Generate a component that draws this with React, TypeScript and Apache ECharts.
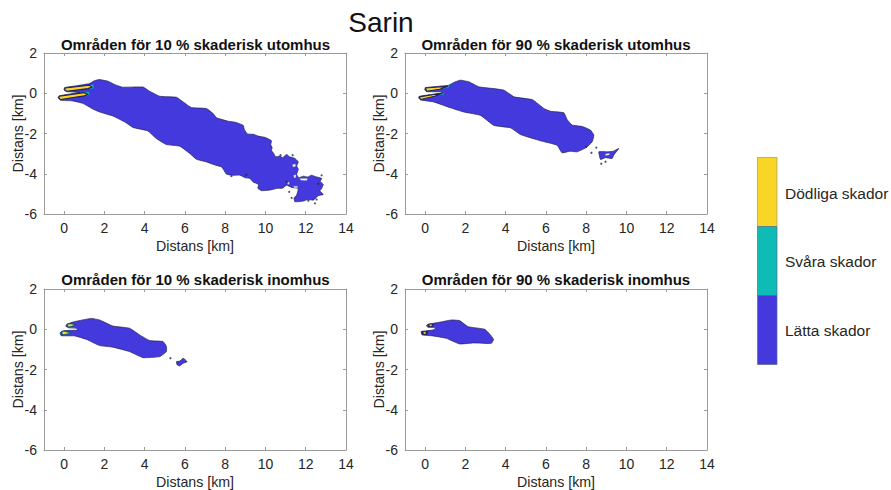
import React, { useEffect, useRef } from "react";
import * as echarts from "echarts";

const FONT = "'Liberation Sans', Arial, sans-serif";
const legendLabels = ["Dödliga skador", "Svåra skador", "Lätta skador"];
const mainTitle = "Sarin";
const panelTitles = [
  "Områden för 10 % skaderisk utomhus",
  "Områden för 90 % skaderisk utomhus",
  "Områden för 10 % skaderisk inomhus",
  "Områden för 90 % skaderisk inomhus",
];
const axisName = "Distans [km]";
type P = [number, number];

// Panel 1
const p1Light: P[] = [[0.03,0.28],[0.6,0.37],[1.25,0.48],[1.5,0.62],[1.75,0.68],[2.17,0.6],[2.59,0.4],[2.92,0.3],[3.92,0.31],[4.25,0.1],[4.75,-0.15],[5.58,-0.2],[5.91,-0.43],[6.32,-0.71],[7.07,-0.76],[7.4,-1.01],[7.57,-1.22],[8.15,-1.39],[8.5,-1.44],[8.89,-1.59],[8.95,-1.8],[9.1,-2.02],[9.4,-2.04],[9.64,-2.13],[10.0,-2.2],[10.3,-2.36],[10.26,-2.55],[10.33,-2.7],[10.3,-2.85],[10.42,-3.0],[10.5,-3.16],[10.7,-3.12],[10.85,-3.2],[11.05,-3.04],[11.2,-3.16],[11.46,-3.24],[11.63,-3.41],[11.55,-3.61],[11.63,-3.77],[11.55,-4.04],[11.66,-4.2],[11.88,-4.12],[12.1,-4.16],[12.29,-4.07],[12.5,-4.15],[12.79,-4.23],[12.72,-4.38],[12.87,-4.53],[12.79,-4.73],[12.7,-4.85],[12.87,-5.03],[12.62,-5.09],[12.5,-5.2],[12.38,-5.31],[12.1,-5.28],[11.88,-5.36],[11.46,-5.39],[11.42,-5.2],[11.55,-5.06],[11.63,-4.73],[11.3,-4.68],[11.05,-4.57],[10.85,-4.72],[10.6,-4.72],[10.22,-4.81],[9.8,-4.84],[9.62,-4.72],[9.66,-4.55],[9.56,-4.48],[9.4,-4.42],[9.23,-4.23],[9.0,-4.2],[8.73,-4.07],[8.4,-4.08],[8.06,-4.02],[7.92,-3.8],[7.82,-3.66],[7.45,-3.55],[7.07,-3.41],[6.57,-3.28],[6.24,-2.99],[5.74,-2.63],[5.08,-2.55],[4.58,-2.25],[4.16,-1.87],[3.42,-1.7],[3.0,-1.42],[2.42,-1.13],[1.76,-0.93],[1.42,-0.78],[0.92,-0.5],[0.42,-0.38],[-0.17,-0.35],[-0.3,-0.22],[-0.24,-0.13],[0.77,0.05],[0.12,0.08],[-0.01,0.17]];
const p1ModerateA: P[] = [[1.1,0.38],[1.45,0.42],[1.45,0.25],[1.1,0.22]];
const p1ModerateB: P[] = [[0.9,0.04],[1.22,0.06],[1.25,-0.08],[0.9,-0.14]];
const p1SevereA: P[] = [[0.05,0.26],[1.27,0.4],[1.38,0.31],[1.18,0.23],[0.12,0.1],[0.03,0.18]];
const p1SevereB: P[] = [[-0.24,-0.15],[1.0,0.03],[1.17,-0.05],[1.0,-0.13],[-0.18,-0.31],[-0.27,-0.23]];
const p1Holes: P[][] = [
  [[11.35,-3.54],[11.48,-3.52],[11.5,-3.63],[11.36,-3.66]],
  [[11.4,-4.07],[11.52,-4.05],[11.5,-4.2],[11.42,-4.2]],
  [[11.4,-4.62],[11.6,-4.62],[11.58,-4.69],[11.42,-4.69]],
  [[11.7,-4.24],[12.08,-4.23],[12.06,-4.33],[11.76,-4.32]],
  [[11.1,-4.42],[11.18,-4.42],[11.18,-4.52],[11.11,-4.52]],
];
const p1Specks: P[] = [[11.35,-3.08],[10.75,-3.08],[8.31,-4.12],[11.18,-4.9],[12.46,-5.47],[12.79,-4.08],[12.54,-5.28],[12.13,-5.34],[11.3,-5.2],[11.05,-4.4],[12.62,-4.5],[9.05,-4.05]];

// Panel 2
const p2Light: P[] = [[0.02,0.28],[0.6,0.34],[1.17,0.4],[1.45,0.55],[1.75,0.65],[2.17,0.57],[2.67,0.32],[3.42,0.23],[3.92,0.15],[4.42,-0.18],[5.33,-0.32],[5.92,-0.77],[6.25,-0.9],[6.89,-0.97],[7.05,-1.3],[7.3,-1.58],[7.8,-1.65],[8.21,-1.83],[8.38,-2.08],[8.3,-2.41],[8.0,-2.7],[7.55,-2.91],[7.2,-2.88],[6.8,-2.96],[6.55,-2.58],[5.72,-2.36],[4.73,-2.05],[4.25,-1.72],[3.42,-1.6],[2.75,-1.1],[1.92,-0.93],[1.25,-0.72],[0.42,-0.43],[-0.23,-0.33],[-0.32,-0.22],[-0.28,-0.15],[0.88,0.02],[0.85,0.07],[0.07,0.08],[-0.02,0.18]];
const p2Island: P[] = [[8.63,-2.91],[9.04,-2.91],[9.35,-2.88],[9.62,-2.74],[9.37,-3.07],[9.29,-3.24],[8.95,-3.2],[8.71,-3.29]];
const p2Hole: P[] = [[8.95,-3.02],[9.15,-2.98],[9.15,-3.06],[8.97,-3.09]];
const p2ModerateA: P[] = [[0.95,0.3],[1.2,0.38],[1.15,0.28],[0.9,0.24]];
const p2ModerateB: P[] = [[0.7,-0.02],[0.95,0.02],[0.9,-0.06],[0.65,-0.09]];
const p2SevereA: P[] = [[0.02,0.26],[1.13,0.35],[0.72,0.2],[0.07,0.1]];
const p2SevereB: P[] = [[-0.29,-0.18],[0.88,0.01],[0.47,-0.15],[-0.23,-0.31]];
const p2Specks: P[] = [[8.96,-3.4],[8.26,-2.96],[8.0,-2.66],[8.75,-3.5],[8.5,-2.7]];

// Panel 3
const p3Light: P[] = [[0.136,0.25],[0.52,0.38],[1.35,0.54],[1.76,0.46],[2.42,0.16],[3.25,0.05],[3.75,-0.28],[4.25,-0.56],[4.91,-0.61],[5.08,-0.85],[5.08,-1.11],[4.75,-1.36],[3.92,-1.41],[3.25,-1.11],[2.42,-0.89],[1.76,-0.81],[1.1,-0.5],[0.52,-0.33],[-0.15,-0.32],[-0.2,-0.17],[-0.03,-0.07],[0.68,-0.04],[0.6,0.05],[0.24,0.07],[0.08,0.15]];
const p3Island: P[] = [[5.58,-1.61],[5.75,-1.58],[5.91,-1.44],[6.11,-1.61],[5.91,-1.69],[5.74,-1.82],[5.61,-1.77]];
const p3ModerateA: P[] = [[0.15,0.26],[0.57,0.25],[0.45,0.14],[0.15,0.12]];
const p3ModerateB: P[] = [[-0.12,-0.1],[0.32,-0.15],[0.2,-0.27],[-0.12,-0.26]];
const p3SevereA: P[] = [[0.22,0.24],[0.42,0.23],[0.36,0.16],[0.22,0.15]];
const p3SevereB: P[] = [[-0.06,-0.13],[0.15,-0.15],[0.08,-0.23],[-0.06,-0.23]];
const p3Specks: P[] = [[5.28,-1.44]];

// Panel 4
const p4Light: P[] = [[0.136,0.25],[0.63,0.33],[1.3,0.46],[1.71,0.43],[2.13,0.13],[2.96,0.0],[3.2,-0.23],[3.4,-0.5],[3.29,-0.7],[2.4,-0.68],[1.71,-0.73],[1.05,-0.45],[0.39,-0.33],[-0.15,-0.28],[-0.2,-0.12],[0.42,-0.03],[0.52,0.08],[0.136,0.1],[0.07,0.18]];
const p4ModerateA: P[] = [[0.17,0.25],[0.42,0.24],[0.35,0.13],[0.17,0.12]];
const p4ModerateB: P[] = [[-0.14,-0.1],[0.14,-0.12],[0.08,-0.26],[-0.14,-0.26]];
const p4SevereA: P[] = [[0.23,0.23],[0.33,0.22],[0.31,0.16],[0.23,0.16]];
const p4SevereB: P[] = [[-0.07,-0.14],[0.03,-0.15],[0.02,-0.22],[-0.07,-0.22]];

const BLUE = "#4339DC";
const TEAL = "#0FBBB5";
const YELLOW = "#F9D626";
const EDGE = "#23234F";
const GREY = "#9a9a9a";
const INK = "#262626";

const poly = (i: number, pts: P[], fill: string, stroke = EDGE, lw = 0.7, smooth = 0) => ({
  type: "custom",
  xAxisIndex: i * 2,
  yAxisIndex: i * 2,
  silent: true,
  data: pts,
  renderItem: (params: any, api: any) =>
    params.dataIndex === 0
      ? {
          type: "polygon",
          shape: { points: pts.map((p) => api.coord(p)), smooth },
          style: { fill, stroke, lineWidth: lw },
        }
      : null,
});

const specks = (i: number, pts: P[]) => ({
  type: "scatter",
  xAxisIndex: i * 2,
  yAxisIndex: i * 2,
  silent: true,
  symbolSize: 2.2,
  itemStyle: { color: EDGE },
  data: pts,
});

const grids = [
  { left: 44, top: 53, width: 302, height: 161 },
  { left: 405, top: 53, width: 302, height: 161 },
  { left: 44, top: 289, width: 302, height: 161 },
  { left: 405, top: 289, width: 302, height: 161 },
];

const xTicks = [0, 2, 4, 6, 8, 10, 12, 14];
const xAxes: any[] = [];
const yAxes: any[] = [];
grids.forEach((_, g) => {
  const line = { show: true, onZero: false, lineStyle: { color: GREY, width: 1 } };
  const tick = { show: true, inside: true, length: 3, lineStyle: { color: GREY } };
  const baseX = { type: "value", gridIndex: g, min: -1, max: 14, splitLine: { show: false }, axisLine: line };
  const baseY = { type: "value", gridIndex: g, min: -6, max: 2, interval: 2, splitLine: { show: false }, axisLine: line, axisTick: tick };
  xAxes.push(
    {
      ...baseX, position: "bottom",
      axisLabel: { show: true, color: INK, fontSize: 14, fontFamily: FONT, margin: 7, customValues: xTicks },
      axisTick: { ...tick, customValues: xTicks },
      name: axisName, nameLocation: "middle", nameGap: 25,
      nameTextStyle: { color: INK, fontSize: 14.2, fontFamily: FONT },
    },
    { ...baseX, position: "top", axisLabel: { show: false }, axisTick: { ...tick, customValues: xTicks } }
  );
  yAxes.push(
    {
      ...baseY, position: "left",
      axisLabel: { show: true, color: INK, fontSize: 14, fontFamily: FONT, margin: 7 },
      name: axisName, nameLocation: "middle", nameGap: 19, nameMoveOverlap: false,
      nameTextStyle: { color: INK, fontSize: 14.2, fontFamily: FONT },
    },
    { ...baseY, position: "right", axisLabel: { show: false } }
  );
});

const BODY = 0.12;
const series: any[] = [
  poly(0, p1Light, BLUE, EDGE, 0.7, BODY),
  poly(0, p1ModerateA, TEAL, TEAL, 0.2),
  poly(0, p1ModerateB, TEAL, TEAL, 0.2),
  poly(0, p1SevereA, YELLOW, EDGE, 1.1),
  poly(0, p1SevereB, YELLOW, EDGE, 1.1),
  ...p1Holes.map((h) => poly(0, h, "#ffffff", "#8888aa", 0.4)),
  specks(0, p1Specks),
  poly(1, p2Light, BLUE, EDGE, 0.7, BODY),
  poly(1, p2Island, BLUE, EDGE, 0.7, BODY),
  poly(1, p2Hole, "#ffffff", "#8888aa", 0.4),
  poly(1, p2ModerateA, TEAL, TEAL, 0.2),
  poly(1, p2ModerateB, TEAL, TEAL, 0.2),
  poly(1, p2SevereA, YELLOW, EDGE, 1.1),
  poly(1, p2SevereB, YELLOW, EDGE, 1.1),
  specks(1, p2Specks),
  poly(2, p3Light, BLUE, EDGE, 0.7, BODY),
  poly(2, p3Island, BLUE, EDGE, 0.7, BODY),
  poly(2, p3ModerateA, TEAL, EDGE, 0.6),
  poly(2, p3ModerateB, TEAL, EDGE, 0.6),
  poly(2, p3SevereA, YELLOW, YELLOW, 0.3),
  poly(2, p3SevereB, YELLOW, YELLOW, 0.3),
  specks(2, p3Specks),
  poly(3, p4Light, BLUE, EDGE, 0.7, BODY),
  poly(3, p4ModerateA, "#1a1a4a", EDGE, 0.6),
  poly(3, p4ModerateB, "#1a1a4a", EDGE, 0.6),
  poly(3, p4SevereA, YELLOW, YELLOW, 0.3),
  poly(3, p4SevereB, YELLOW, YELLOW, 0.3),
];

const legendColors = [YELLOW, TEAL, BLUE];
const graphic: any[] = [];
legendColors.forEach((c, i) => {
  graphic.push({
    type: "rect",
    shape: { x: 757.5, y: 157.5 + i * 69, width: 19.5, height: 69 },
    style: { fill: c, stroke: i === 0 ? "#9a9a7a" : "#5a6a8a", lineWidth: 0.7 },
  });
  graphic.push({
    type: "text",
    x: 785,
    y: 193 + i * 68.5,
    style: { text: legendLabels[i], fill: INK, font: `15.5px ${FONT}`, textVerticalAlign: "middle", textAlign: "left" },
  });
});
[
  { text: mainTitle, x: 381, y: 22, font: `28px ${FONT}` },
  { text: panelTitles[0], x: 195.5, y: 44, font: `bold 15px ${FONT}` },
  { text: panelTitles[1], x: 556, y: 44, font: `bold 15px ${FONT}` },
  { text: panelTitles[2], x: 195.5, y: 279.5, font: `bold 15px ${FONT}` },
  { text: panelTitles[3], x: 556, y: 279.5, font: `bold 15px ${FONT}` },
].forEach((t) =>
  graphic.push({
    type: "text", x: t.x, y: t.y,
    style: { text: t.text, font: t.font, fill: "#111", textAlign: "center", textVerticalAlign: "middle" },
  })
);

export default function App() {
  const ref = useRef<HTMLDivElement>(null);
  useEffect(() => {
    const chart = echarts.init(ref.current!, undefined, { renderer: "svg" });
    chart.setOption({
      animation: false,
      backgroundColor: "#ffffff",
      grid: grids,
      xAxis: xAxes,
      yAxis: yAxes,
      series,
      graphic,
    });
    return () => chart.dispose();
  }, []);
  return <div ref={ref} style={{ width: 891, height: 490, position: "absolute", left: 0, top: 0 }} />;
}
